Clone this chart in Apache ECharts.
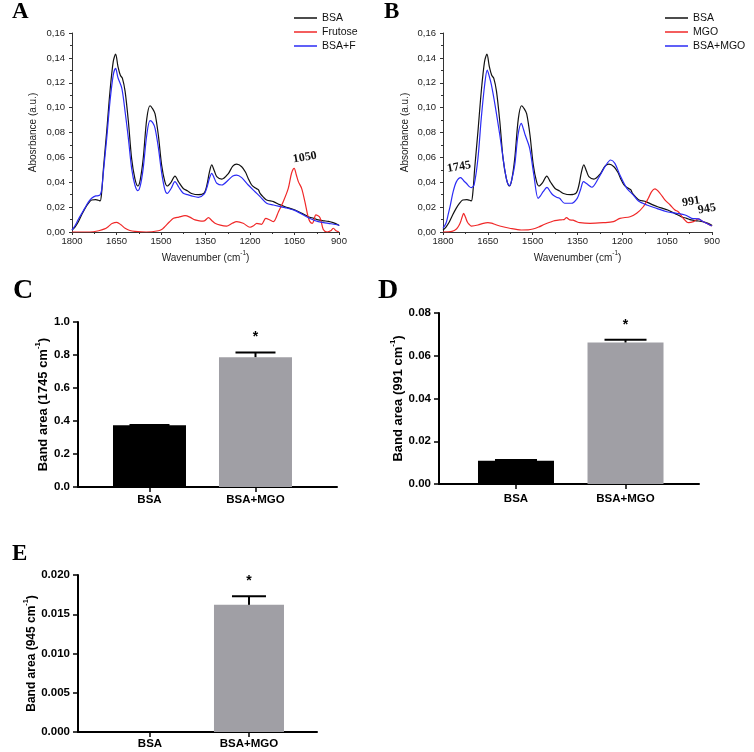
<!DOCTYPE html>
<html><head><meta charset="utf-8">
<script src="https://cdn.jsdelivr.net/npm/echarts@6/dist/echarts.min.js"></script>
<style>html,body{margin:0;padding:0;background:#fff}#c{width:754px;height:752px}</style>
</head><body><div id="c"></div>
<script>
// ---- spectra (wavenumber, absorbance) ----
const bsa = [[1800,0.0015],[1790,0.004],[1779,0.008],[1767,0.014],[1756,0.019],[1745,0.023],[1734,0.0257],[1720,0.026],[1711,0.0255],[1705,0.025],[1700,0.032],[1694,0.051],[1683,0.081],[1672,0.113],[1661,0.137],[1653,0.143],[1645,0.133],[1637,0.126],[1630,0.1235],[1621,0.113],[1610,0.089],[1599,0.059],[1588,0.043],[1578,0.037],[1570,0.042],[1560,0.059],[1548,0.091],[1537,0.1015],[1528,0.099],[1520,0.095],[1509,0.078],[1498,0.054],[1487,0.0405],[1479,0.037],[1466,0.040],[1453,0.045],[1440,0.040],[1425,0.035],[1410,0.033],[1397,0.031],[1374,0.030],[1354,0.0315],[1345,0.038],[1337,0.048],[1329,0.054],[1320,0.049],[1312,0.0445],[1295,0.0425],[1273,0.047],[1258,0.053],[1245,0.0545],[1228,0.0525],[1215,0.048],[1206,0.043],[1195,0.038],[1183,0.0355],[1172,0.034],[1166,0.031],[1155,0.028],[1144,0.0257],[1121,0.0244],[1100,0.022],[1082,0.0203],[1065,0.019],[1048,0.0177],[1025,0.015],[1003,0.0123],[985,0.011],[970,0.0097],[950,0.009],[936,0.0085],[920,0.0075],[902,0.0056],[900,0.005]];
const bsaF = [[1800,0.0015],[1790,0.005],[1779,0.01],[1767,0.015],[1756,0.0194],[1745,0.024],[1734,0.0271],[1720,0.029],[1711,0.0292],[1705,0.030],[1700,0.034],[1694,0.0485],[1683,0.0753],[1672,0.1048],[1661,0.1262],[1653,0.1316],[1645,0.124],[1632,0.1155],[1621,0.0967],[1610,0.0753],[1599,0.0512],[1588,0.0378],[1578,0.0332],[1570,0.037],[1560,0.0512],[1548,0.078],[1537,0.0895],[1528,0.088],[1520,0.0834],[1509,0.068],[1498,0.048],[1487,0.034],[1479,0.031],[1466,0.035],[1453,0.0405],[1440,0.036],[1425,0.0311],[1410,0.030],[1397,0.029],[1374,0.0279],[1354,0.0306],[1345,0.036],[1337,0.043],[1329,0.0472],[1320,0.043],[1312,0.0392],[1295,0.0378],[1273,0.0418],[1258,0.045],[1245,0.0458],[1228,0.0437],[1206,0.0378],[1183,0.0324],[1166,0.0284],[1144,0.0231],[1121,0.0217],[1082,0.0196],[1048,0.0172],[1003,0.0115],[970,0.0083],[936,0.007],[902,0.0056],[900,0.005]];
const fructose = [[1800,0],[1740,0],[1710,0.001],[1690,0.0025],[1678,0.0043],[1665,0.0068],[1649,0.0078],[1635,0.0058],[1621,0.003],[1605,0.0012],[1588,0.0005],[1550,0],[1509,0.001],[1495,0.0025],[1487,0.0043],[1472,0.008],[1458,0.011],[1440,0.012],[1419,0.0131],[1403,0.012],[1385,0.0097],[1365,0.0088],[1354,0.009],[1340,0.0115],[1330,0.0095],[1318,0.007],[1300,0.0055],[1279,0.0048],[1260,0.007],[1245,0.0083],[1223,0.007],[1200,0.0038],[1188,0.005],[1177,0.007],[1161,0.0062],[1147,0.011],[1133,0.0097],[1121,0.0083],[1104,0.0163],[1088,0.0244],[1071,0.0351],[1060,0.0472],[1051,0.0512],[1044,0.046],[1037,0.0405],[1026,0.0351],[1015,0.0244],[1005,0.013],[998,0.0083],[990,0.007],[985,0.009],[978,0.0137],[964,0.0115],[953,0.002],[940,0],[928,0.001],[919,0.003],[910,0.001],[900,0]];
const mgo = [[1800,0],[1770,0.0005],[1755,0.0024],[1745,0.006],[1741,0.0083],[1736,0.012],[1731,0.015],[1725,0.012],[1719,0.0083],[1712,0.006],[1705,0.0048],[1683,0.0056],[1665,0.007],[1650,0.0075],[1638,0.0072],[1625,0.006],[1610,0.0048],[1577,0.003],[1538,0.0016],[1515,0.0017],[1499,0.0024],[1480,0.004],[1460,0.0062],[1440,0.008],[1426,0.0091],[1405,0.0098],[1395,0.010],[1387,0.0115],[1376,0.0097],[1365,0.0095],[1355,0.0085],[1342,0.0075],[1308,0.007],[1264,0.0075],[1230,0.0083],[1208,0.011],[1174,0.0123],[1152,0.015],[1130,0.0203],[1113,0.0271],[1102,0.0324],[1091,0.0346],[1074,0.0311],[1057,0.0257],[1040,0.0217],[1024,0.0177],[1013,0.0163],[996,0.011],[979,0.0075],[962,0.0083],[946,0.0105],[929,0.0083],[901,0.0048]];
const bsaMGO = [[1800,0.003],[1790,0.007],[1783,0.0137],[1775,0.022],[1766,0.0324],[1755,0.0405],[1741,0.0437],[1730,0.041],[1722,0.0392],[1712,0.0365],[1705,0.0357],[1696,0.0378],[1683,0.0593],[1672,0.0914],[1660,0.1196],[1652,0.1302],[1645,0.125],[1638,0.1182],[1625,0.1008],[1610,0.078],[1594,0.0512],[1585,0.040],[1577,0.0372],[1570,0.042],[1560,0.0539],[1549,0.078],[1538,0.0874],[1530,0.082],[1525,0.078],[1510,0.0673],[1496,0.0458],[1482,0.0271],[1474,0.029],[1465,0.0324],[1452,0.0359],[1440,0.032],[1432,0.0297],[1420,0.028],[1410,0.0271],[1393,0.0231],[1371,0.0231],[1351,0.0271],[1340,0.034],[1330,0.0405],[1320,0.039],[1302,0.036],[1280,0.0432],[1258,0.0525],[1239,0.0579],[1225,0.0552],[1208,0.0458],[1185,0.0351],[1163,0.0297],[1146,0.0249],[1118,0.0217],[1085,0.019],[1051,0.0163],[1018,0.015],[990,0.0137],[968,0.011],[946,0.0105],[929,0.0083],[901,0.0048]];
const notesA = [['1050', 1015, 0.060]];
const notesB = [['1745', 1746, 0.0523], ['991', 970, 0.0244], ['945', 917, 0.0185]];

// ---- band areas ----
const groups = ['BSA', 'BSA+MGO'];
const meansC = [0.375, 0.787], errC = [0.001, 0.028], sigC = ['', '*'];
const meansD = [0.0109, 0.0662], errD = [0.0003, 0.0013], sigD = ['', '*'];
const meansE = [0, 0.0162], errE = [0, 0.0011], sigE = ['', '*'];

const SANS = 'Liberation Sans', SERIF = 'Liberation Serif';
const barColors = ['#000000', '#a09fa5'];

function specX(g) {
  return {type:'value', gridIndex:g, inverse:true, min:900, max:1800, interval:150,
    axisLine:{show:true, onZero:false, lineStyle:{color:'#333', width:1}},
    axisTick:{show:true, length:3, lineStyle:{color:'#333'}},
    minorTick:{show:true, splitNumber:2, length:2, lineStyle:{color:'#333'}},
    splitLine:{show:false}, minorSplitLine:{show:false},
    axisLabel:{fontFamily:SANS, fontSize:9.5, color:'#222', margin:4, formatter:v=>String(v)},
    name:'{n|Wavenumber (cm}{s|-1}{n|)}', nameLocation:'middle', nameGap:18,
    nameTextStyle:{rich:{n:{fontFamily:SANS, fontSize:10, color:'#222', verticalAlign:'bottom', lineHeight:13},
                         s:{fontFamily:SANS, fontSize:6.5, color:'#222', verticalAlign:'top', lineHeight:13}}}};
}
function specY(g, name, gap) {
  return {type:'value', gridIndex:g, min:0, max:0.16, interval:0.02,
    axisLine:{show:true, onZero:false, lineStyle:{color:'#333', width:1}},
    axisTick:{show:true, length:3, lineStyle:{color:'#333'}},
    minorTick:{show:true, splitNumber:2, length:2, lineStyle:{color:'#333'}},
    splitLine:{show:false}, minorSplitLine:{show:false},
    axisLabel:{fontFamily:SANS, fontSize:9.5, color:'#222', margin:7, formatter:v=>v.toFixed(2).replace('.', ',')},
    name:name, nameLocation:'middle', nameGap:gap, nameRotate:90,
    nameTextStyle:{fontFamily:SANS, fontSize:10, color:'#222'}};
}
function barX(g, min, max, margin) {
  return {type:'value', gridIndex:g, min:min, max:max,
    axisLine:{show:true, onZero:false, lineStyle:{color:'#000', width:2}},
    axisTick:{show:true, customValues:[0,1], length:5, lineStyle:{color:'#000', width:1.5}},
    splitLine:{show:false},
    axisLabel:{customValues:[0,1], formatter:v=>groups[Math.round(v)], fontFamily:SANS, fontWeight:'bold', fontSize:11.5, color:'#000', margin:margin}};
}
function barY(g, max, interval, dec, band, gap, fs) {
  return {type:'value', gridIndex:g, min:0, max:max, interval:interval,
    axisLine:{show:true, onZero:false, lineStyle:{color:'#000', width:2}},
    axisTick:{show:true, length:5, lineStyle:{color:'#000', width:1.5}},
    splitLine:{show:false},
    axisLabel:{fontFamily:SANS, fontWeight:'bold', fontSize:11.5, color:'#000', margin:8, formatter:v=>v.toFixed(dec)},
    name:'{n|Band area (' + band + ' cm}{s|-1}{n|)}', nameLocation:'middle', nameGap:gap, nameRotate:90,
    nameTextStyle:{rich:{n:{fontFamily:SANS, fontWeight:'bold', fontSize:fs, color:'#000', verticalAlign:'bottom', lineHeight:fs+3},
                         s:{fontFamily:SANS, fontWeight:'bold', fontSize:fs*0.6, color:'#000', verticalAlign:'top', lineHeight:fs+3}}}};
}
function line(name, g, data, color, notes) {
  const s = {type:'line', name:name, xAxisIndex:g, yAxisIndex:g, data:data, symbol:'none', smooth:0.3,
    lineStyle:{color:color, width:1.2}, itemStyle:{color:color}, z:3, clip:true};
  if (notes) {
    s.markPoint = {symbol:'circle', symbolSize:1, silent:true, itemStyle:{color:'rgba(0,0,0,0)'},
      data: notes.map(n => ({coord:[n[1], n[2]], name:n[0]})),
      label:{show:true, position:'inside', formatter:p=>p.name, fontFamily:SERIF, fontWeight:'bold', fontSize:12, color:'#111', rotate:10}};
  }
  return s;
}
function bars(g, means, width) {
  return {type:'bar', xAxisIndex:g, yAxisIndex:g, barWidth:width,
    data: means.map((v,i)=>({value:[i, v], itemStyle:{color:barColors[i]}}))};
}
function errs(g, means, err, sig, halfCap) {
  return {type:'custom', xAxisIndex:g, yAxisIndex:g, z:5, clip:false,
    data: means.map((v,i)=>[i, v, err[i]]),
    renderItem:(params, api)=>{
      const x = api.value(0), m = api.value(1), e = api.value(2);
      const p0 = api.coord([x, m]), p1 = api.coord([x, m + e]);
      const ch = [];
      if (e > 0) {
        ch.push({type:'line', shape:{x1:p0[0], y1:p0[1], x2:p1[0], y2:p1[1]}, style:{stroke:'#000', lineWidth:2}});
        ch.push({type:'line', shape:{x1:p1[0]-halfCap, y1:p1[1], x2:p1[0]+halfCap, y2:p1[1]}, style:{stroke:'#000', lineWidth:2}});
      }
      const t = sig[params.dataIndex];
      if (t) ch.push({type:'text', style:{text:t, x:p1[0], y:p1[1]-15, align:'center', verticalAlign:'middle', font:'bold 14px ' + SANS, fill:'#000'}});
      return {type:'group', children:ch};
    }};
}
function legend(items, left) {
  return {data:items, left:left, top:7, orient:'vertical', icon:'rect', itemWidth:23, itemHeight:1.5, itemGap:2, selectedMode:false,
    textStyle:{fontFamily:SANS, fontSize:10.5, color:'#111', lineHeight:12}};
}
function letter(t, left, top, fs) {
  return {text:t, left:left, top:top, padding:0, textStyle:{fontFamily:SERIF, fontWeight:'bold', fontSize:fs, color:'#000'}};
}

const option = {
  animation:false,
  backgroundColor:'#fff',
  title:[letter('A',12,1,23), letter('B',384,1,23), letter('C',13,277,28), letter('D',378,277,28), letter('E',12,543,23)],
  legend:[legend(['BSA','Frutose','BSA+F'], 289), legend(['BSA','MGO','BSA+MGO'], 660)],
  grid:[
    {left:72, top:33, width:267, height:199, outerBoundsMode:'none'},
    {left:443, top:33, width:269, height:199, outerBoundsMode:'none'},
    {left:78, top:322, width:259, height:165, outerBoundsMode:'none'},
    {left:439, top:313, width:260, height:171, outerBoundsMode:'none'},
    {left:78, top:575, width:239, height:157, outerBoundsMode:'none'}
  ],
  xAxis:[specX(0), specX(1), barX(2, -0.6745, 1.769, 7), barX(3, -0.703, 1.671, 9), barX(4, -0.727, 1.687, 6)],
  yAxis:[specY(0, 'Abosrbance (a.u.)', 34), specY(1, 'Absorbance (a.u.)', 33),
         barY(2, 1, 0.2, 1, '1745', 26, 13), barY(3, 0.08, 0.02, 2, '991', 32, 13), barY(4, 0.02, 0.005, 3, '945', 35, 12)],
  series:[
    line('BSA', 0, bsa, '#111111'),
    line('Frutose', 0, fructose, '#f02828', notesA),
    line('BSA+F', 0, bsaF, '#2b2bf5'),
    line('BSA', 1, bsa, '#111111', notesB),
    line('MGO', 1, mgo, '#f02828'),
    line('BSA+MGO', 1, bsaMGO, '#2b2bf5'),
    bars(2, meansC, 73), errs(2, meansC, errC, sigC, 20),
    bars(3, meansD, 76), errs(3, meansD, errD, sigD, 21),
    bars(4, meansE, 70), errs(4, meansE, errE, sigE, 17)
  ]
};
const chart = echarts.init(document.getElementById('c'), null, {renderer:'canvas'});
chart.setOption(option);
</script>
</body></html>
